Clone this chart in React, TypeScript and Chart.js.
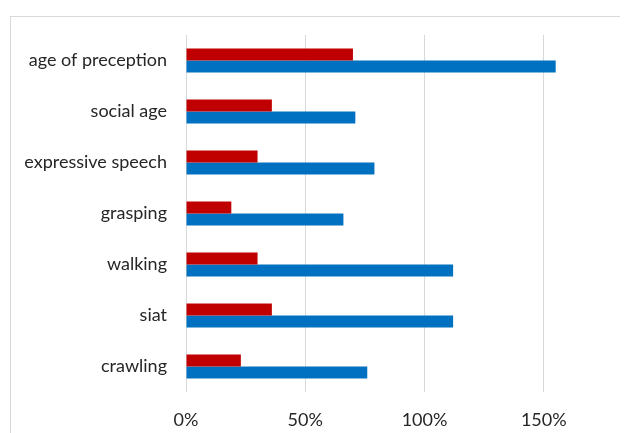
import React, { useEffect, useRef } from "react";
import { Chart, registerables } from "chart.js";

Chart.register(...registerables);

const categories = [
  "age of preception",
  "social age",
  "expressive speech",
  "grasping",
  "walking",
  "siat",
  "crawling",
];
const redValues = [0.7, 0.36, 0.3, 0.19, 0.3, 0.36, 0.23];
const blueValues = [1.55, 0.71, 0.79, 0.66, 1.12, 1.12, 0.76];
const xTickValues = [0, 0.5, 1, 1.5, 2];

const FONT = "Lato, 'Open Sans', sans-serif";
const TEXT = "#262626";

export default function App() {
  const ref = useRef<HTMLCanvasElement | null>(null);

  useEffect(() => {
    if (!ref.current) return;
    const chart = new Chart(ref.current, {
      type: "bar",
      data: {
        labels: categories,
        datasets: [
          {
            label: "red",
            data: redValues,
            backgroundColor: "#C00000",
            barPercentage: 1,
            categoryPercentage: 0.4715,
          },
          {
            label: "blue",
            data: blueValues,
            backgroundColor: "#0070C0",
            barPercentage: 1,
            categoryPercentage: 0.4715,
          },
        ],
      },
      options: {
        indexAxis: "y",
        animation: false,
        responsive: false,
        maintainAspectRatio: false,
        layout: { padding: { top: 18, right: 28, bottom: 0, left: 0 } },
        plugins: {
          legend: { display: false },
          title: { display: false },
          tooltip: { enabled: false },
        },
        scales: {
          x: {
            min: 0,
            max: 2,
            afterBuildTicks: (scale: any) => {
              scale.ticks = xTickValues.map((v) => ({ value: v }));
            },
            afterFit: (scale: any) => {
              scale.height = 65;
              scale.paddingLeft = 0;
              scale.paddingRight = 0;
            },
            ticks: {
              stepSize: 0.5,
              padding: 17,
              color: TEXT,
              font: { family: FONT, size: 18 },
              callback: (v: any) => `${Math.round(Number(v) * 100)}%`,
            },
            grid: { color: "#d9d9d9", lineWidth: 1, drawTicks: false },
            border: { display: false },
          },
          y: {
            afterFit: (scale: any) => {
              scale.width = 175;
              scale.paddingTop = 0;
              scale.paddingBottom = 0;
            },
            ticks: {
              padding: 19,
              color: TEXT,
              font: { family: FONT, size: 18 },
            },
            grid: { display: false, drawTicks: false },
            border: { display: false },
          },
        },
      },
    });
    return () => chart.destroy();
  }, []);

  return (
    <div style={{ position: "relative", width: 620, height: 425, overflow: "hidden" }}>
      <div
        style={{
          position: "absolute",
          left: 2,
          top: 8,
          width: 680,
          height: 440,
          border: "1px solid #d9d9d9",
          background: "#fff",
        }}
      >
        <canvas ref={ref} width={680} height={440} style={{ width: 680, height: 440, display: "block" }} />
      </div>
    </div>
  );
}
